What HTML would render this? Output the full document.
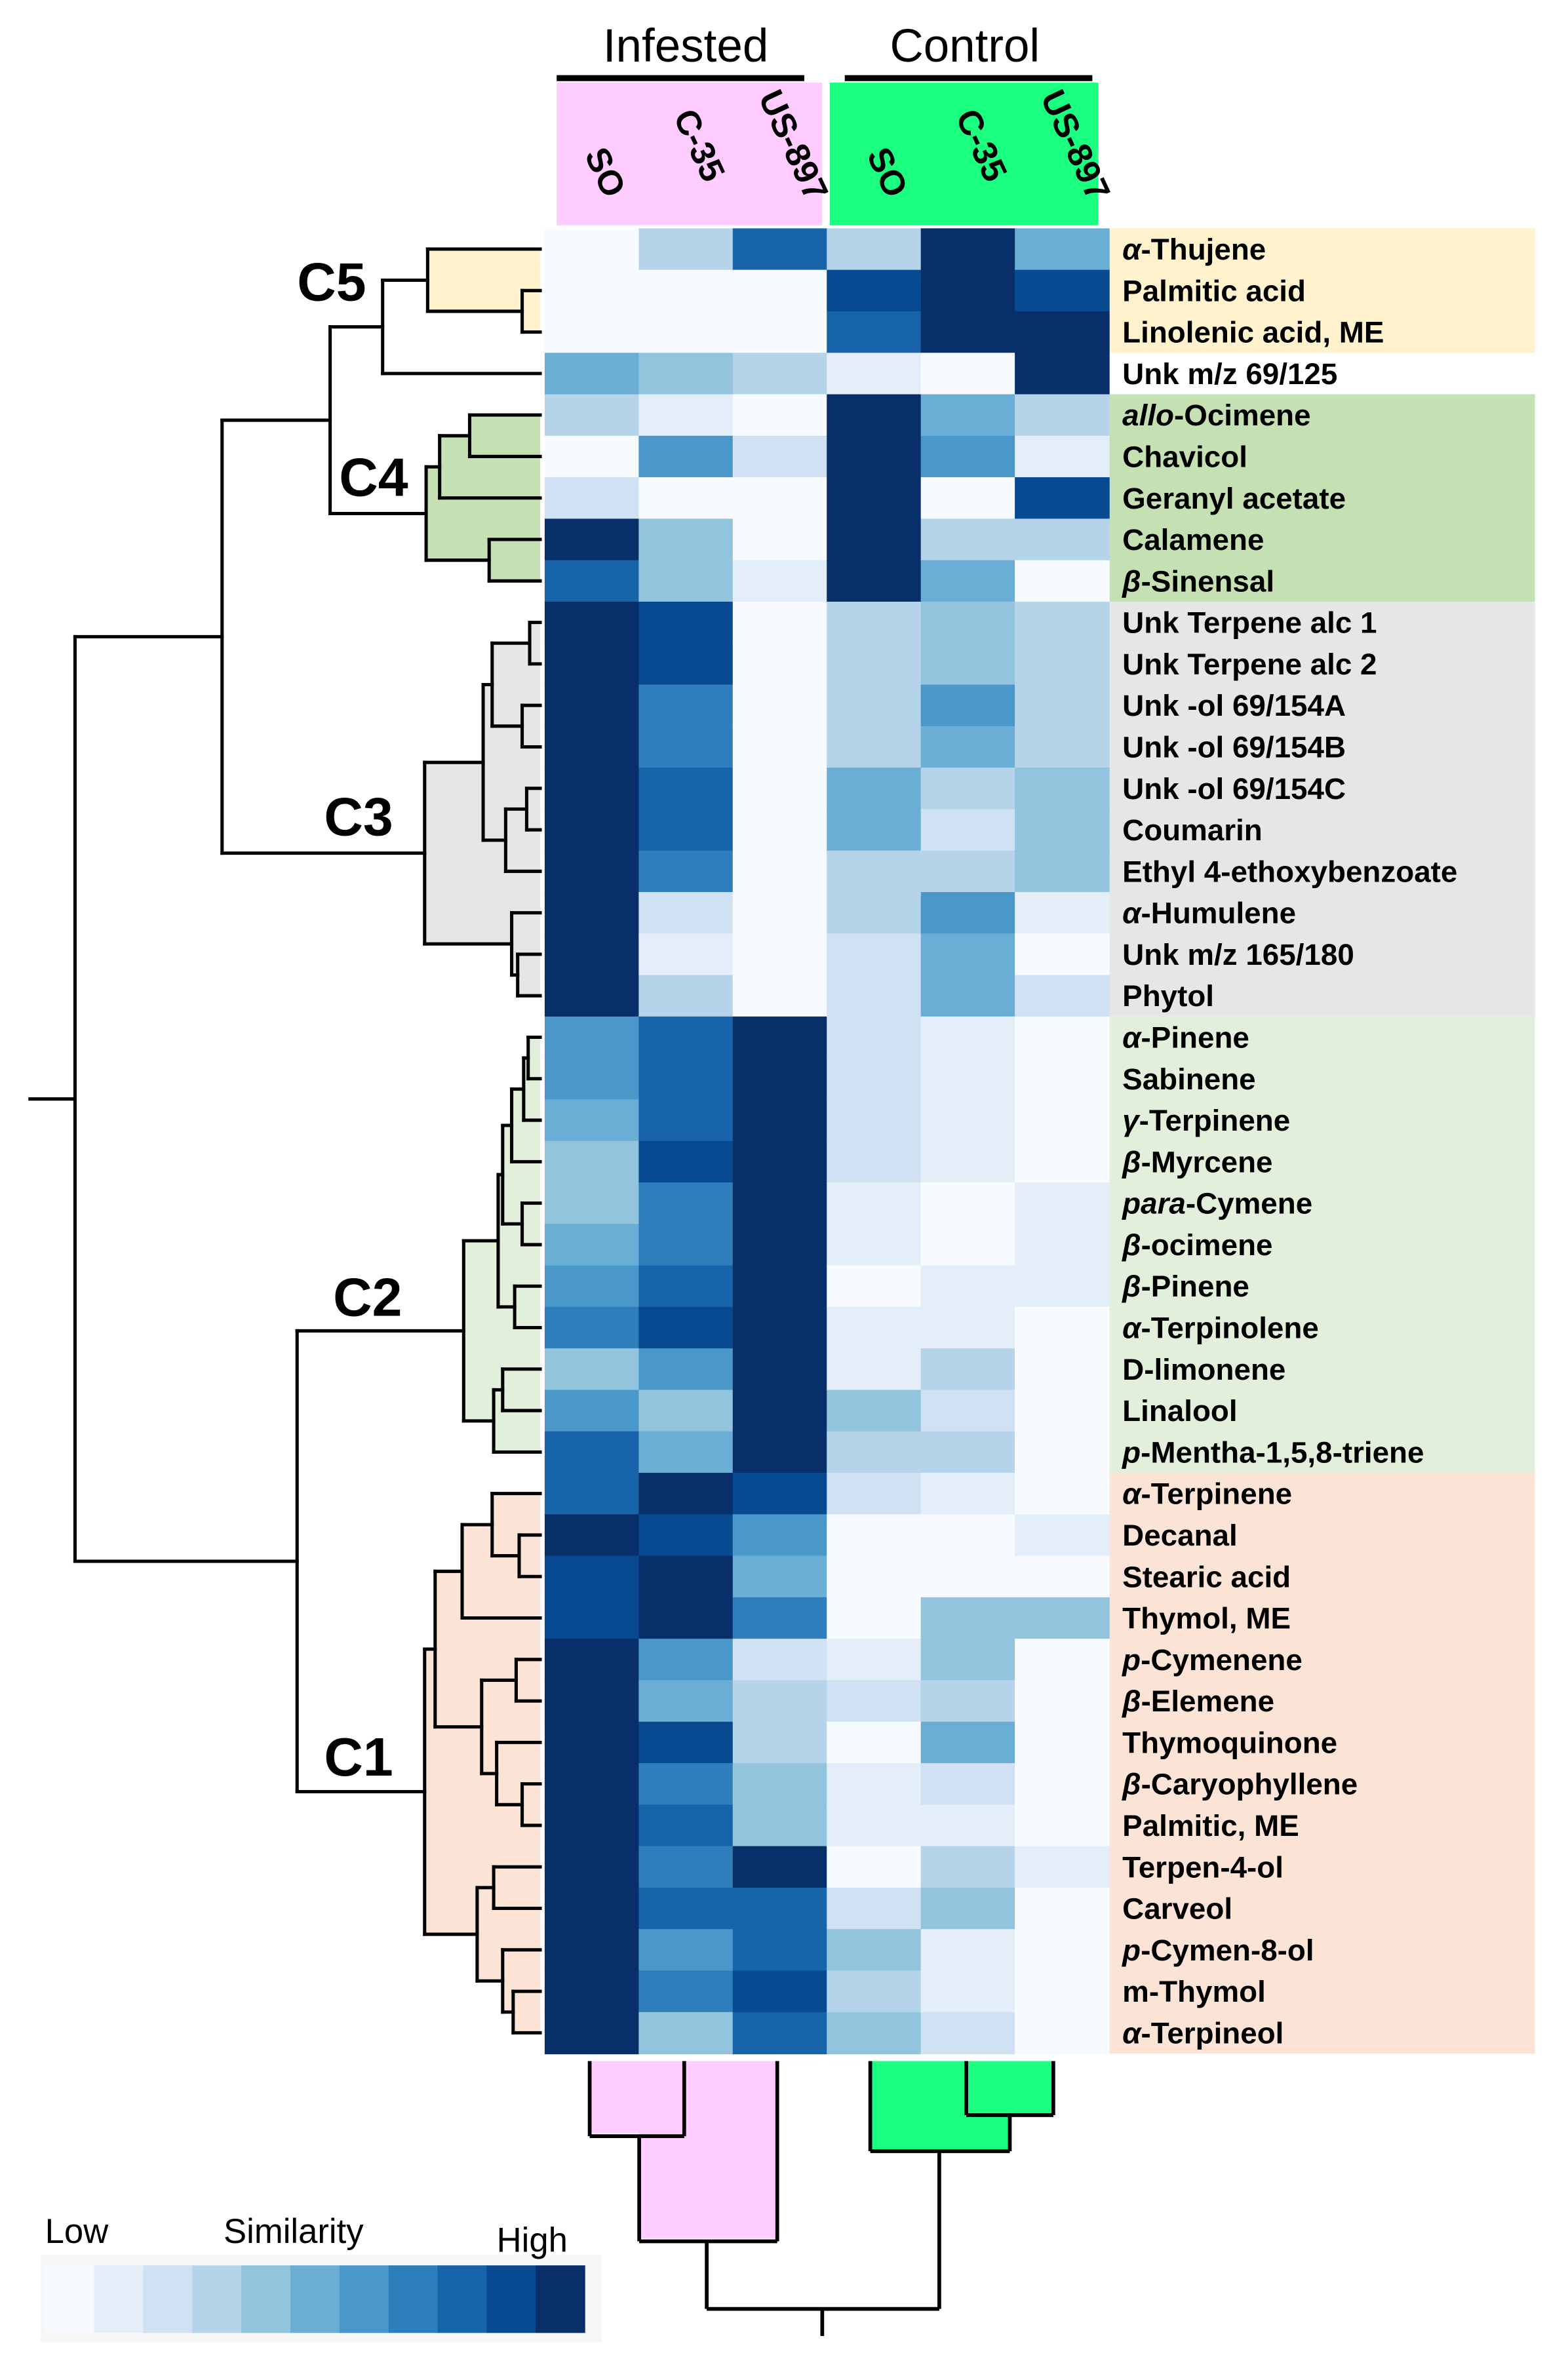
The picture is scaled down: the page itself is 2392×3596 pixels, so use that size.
<!DOCTYPE html>
<html><head><meta charset="utf-8"><style>
html,body{margin:0;padding:0;background:#fff}
svg{display:block}
text{font-family:"Liberation Sans",sans-serif}
</style></head><body>
<svg id="chart" width="2392" height="3596" viewBox="0 0 1045 1569" preserveAspectRatio="none" xmlns="http://www.w3.org/2000/svg">
<g id="bg"></g>
<g id="cells"></g>
<g id="labels"></g>
<g id="shade"></g>
<g id="tree" stroke="#000" stroke-width="2.2" fill="none" stroke-linecap="square"></g>
<g id="clabels"></g>
<g id="header"></g>
<g id="legend"></g>
</svg>
<script>
const compounds=["α-Thujene","Palmitic  acid","Linolenic  acid, ME","Unk m/z 69/125","allo-Ocimene","Chavicol","Geranyl acetate","Calamene","β-Sinensal","Unk Terpene alc 1","Unk Terpene alc 2","Unk -ol 69/154A","Unk -ol 69/154B","Unk -ol 69/154C","Coumarin","Ethyl 4-ethoxybenzoate","α-Humulene","Unk m/z 165/180","Phytol","α-Pinene","Sabinene","γ-Terpinene","β-Myrcene","para-Cymene","β-ocimene","β-Pinene","α-Terpinolene","D-limonene","Linalool","p-Mentha-1,5,8-triene","α-Terpinene","Decanal","Stearic acid","Thymol, ME","p-Cymenene","β-Elemene","Thymoquinone","β-Caryophyllene","Palmitic,  ME","Terpen-4-ol","Carveol","p-Cymen-8-ol","m-Thymol","α-Terpineol"];
const italicPrefix=["α-","β-","γ-","allo-","para-","p-"];
const samples=["SO","C-35","US-897","SO","C-35","US-897"];
const infSO =[0,0,0,5,3,0,2,10,8,10,10,10,10,10,10,10,10,10,10,6,6,5,4,4,5,6,7,4,6,8,8,10,9,9,10,10,10,10,10,10,10,10,10,10];
const infC35=[3,0,0,4,1,6,0,4,4,9,9,7,7,8,8,7,2,1,3,8,8,8,9,7,7,8,9,6,4,5,10,9,10,10,6,5,9,7,8,7,8,6,7,4];
const infUS =[8,0,0,3,0,2,0,0,1,0,0,0,0,0,0,0,0,0,0,10,10,10,10,10,10,10,10,10,10,10,9,6,5,7,2,3,3,4,4,10,8,8,9,8];
const conSO =[3,9,8,1,10,10,10,10,10,3,3,3,3,5,5,3,3,2,2,2,2,2,2,1,1,0,1,1,4,3,2,0,0,0,1,2,0,1,1,0,2,4,3,4];
const conC35=[10,10,10,0,5,6,0,3,5,4,4,6,5,3,2,3,6,5,5,1,1,1,1,0,0,1,1,3,2,3,1,0,0,4,4,3,5,2,1,3,4,1,1,2];
const conUS =[5,9,10,10,3,1,9,3,0,3,3,3,3,4,4,4,1,0,2,0,0,0,0,1,1,1,0,0,0,0,0,1,0,4,0,0,0,0,0,1,0,0,0,0];
const columns=[infSO,infC35,infUS,conSO,conC35,conUS];
const palette=["#f7fbff","#e3eef8","#cfe1f2","#b5d4e9","#93c4de","#6aaed6","#4a98c9","#2e7ebc","#1764ab","#084a91","#082f6a"];
const clusterNames=["C5","C4","C3","C2","C1"];
const clusterStart=[0,4,9,19,30];
const clusterEnd=[2,8,18,29,43];
const clusterColors=["#fff2cc","#c5e0b3","#e6e6e6","#e2efda","#fbe4d5"];
// dendrogram trees [nodeX, childA, childB]; leaves are row indices
const treeC5=[285,0,[348,1,2]];
const treeC4=[284,[293,[313,4,5],6],[326,7,8]];
const treeC3=[283,[322,[328,[353,9,10],[348,11,12]],[337,[351,13,14],15]],[341,16,[345,17,18]]];
const treeC2=[309,[332,[335,[341,[349,[352,19,20],21],22],[348,23,24]],[343,25,26]],[329,[335,27,28],29]];
const treeC1=[283,[290,[308,[328,30,[346,31,32]],33],[321,[344,34,35],[331,36,[348,37,38]]]],[318,[329,39,40],[335,41,[342,42,43]]]];

const NS="http://www.w3.org/2000/svg";
const X0=363,X1=739,Y0=152,Y1=1367;
const nR=compounds.length, nC=columns.length;
const cw=(X1-X0)/nC, rh=(Y1-Y0)/nR;
const xc=i=>X0+i*cw, yr=i=>Y0+i*rh;
function mk(tag,attrs,parent){const e=document.createElementNS(NS,tag);for(const k in attrs)e.setAttribute(k,attrs[k]);parent.appendChild(e);return e;}
const bg=document.getElementById('bg'),cells=document.getElementById('cells'),labels=document.getElementById('labels'),tree=document.getElementById('tree'),shadeG=document.getElementById('shade'),clabels=document.getElementById('clabels'),header=document.getElementById('header'),legend=document.getElementById('legend');

clusterNames.forEach((n,k)=>{
  const r=mk('rect',{x:X1,y:yr(clusterStart[k]),width:1023-X1,height:(clusterEnd[k]-clusterStart[k]+1)*rh,fill:clusterColors[k]},bg);
  
  
});
for(let c=0;c<nC;c++)for(let r=0;r<nR;r++){
  const e=mk('rect',{x:xc(c),y:yr(r),width:cw+0.5,height:rh+0.5,fill:palette[columns[c][r]]},cells);
  
  
}
compounds.forEach((t,r)=>{
  const e=mk('text',{x:748,y:yr(r)+rh/2+7,'font-size':20,'font-weight':'bold',fill:'#000','xml:space':'preserve'},labels);
  
  
  let p=italicPrefix.find(q=>t.startsWith(q));
  if(p){const a=mk('tspan',{'font-style':'italic'},e);a.textContent=p.replace('-','');const b=mk('tspan',{},e);b.textContent=t.slice(p.length-1);}
  else e.textContent=t;
});
const LEAFX=360;
function line(x1,y1,x2,y2){const e=mk('line',{x1,y1,x2,y2},tree);
  
  }
function draw(node,color){
  if(typeof node==='number') return {x:LEAFX,y:yr(node)+rh/2};
  const a=draw(node[1],color), b=draw(node[2],color), x=node[0];
  if(color){const s=mk('rect',{x:x,y:a.y,width:LEAFX-x,height:b.y-a.y,fill:color},shadeG);
    
    }
  line(x,a.y,x,b.y);line(x,a.y,a.x,a.y);line(x,b.y,b.x,b.y);
  return {x:x,y:(a.y+b.y)/2};
}
function drawTop(node){
  if(typeof node==='number') return {x:LEAFX,y:yr(node)+rh/2};
  if(!Array.isArray(node)) return draw(node.t,node.color);
  const a=drawTop(node[1]), b=drawTop(node[2]), x=node[0];
  line(x,a.y,x,b.y);line(x,a.y,a.x,a.y);line(x,b.y,b.x,b.y);
  return {x:x,y:(a.y+b.y)/2};
}
const fullTree=[50,[148,[220,[255,{t:treeC5,color:clusterColors[0]},3],{t:treeC4,color:clusterColors[1]}],{t:treeC3,color:clusterColors[2]}],[198,{t:treeC2,color:clusterColors[3]},{t:treeC1,color:clusterColors[4]}]];
const rootPos=drawTop(fullTree);
line(20,rootPos.y,50,rootPos.y);

const cl=[[198,200],[226,330],[216,556],[222,876],[216,1182]];
clusterNames.forEach((n,k)=>{const e=mk('text',{x:cl[k][0],y:cl[k][1],'font-size':36,'font-weight':'bold'},clabels);e.textContent=n;
  
  });
const pk=mk('path',{d:'M393,1372 H518 V1490 H426 V1420 H393 Z',fill:'#ffccff',stroke:'none'},header);

const gr=mk('path',{d:'M580,1372 H702 V1408 H673 V1432 H580 Z',fill:'#1aff80',stroke:'none'},header);

const bl=[[393,1372,393,1422],[456,1372,456,1422],[393,1422,456,1422],[426,1422,426,1492],[518,1372,518,1492],[426,1492,518,1492],[580,1372,580,1432],[644,1372,644,1408],[702,1372,702,1408],[644,1408,702,1408],[673,1408,673,1432],[580,1432,673,1432],[471,1492,471,1537],[626,1432,626,1537],[471,1537,626,1537],[548,1537,548,1555]];
bl.forEach(l=>{const e=mk('line',{x1:l[0],y1:l[1],x2:l[2],y2:l[3],stroke:'#000','stroke-width':2.5},header);
  });
const hp=mk('rect',{x:371,y:55,width:177,height:95,fill:'#ffccff'},header);
const hg=mk('rect',{x:553,y:55,width:179,height:95,fill:'#1aff80'},header);
[[371,536],[563,728]].forEach(l=>{const e=mk('line',{x1:l[0],y1:52,x2:l[1],y2:52,stroke:'#000','stroke-width':4},header);});
[["Infested",457],["Control",643]].forEach(g=>{const e=mk('text',{x:g[1],y:41,'font-size':31,'text-anchor':'middle'},header);e.textContent=g[0];});
samples.forEach((s,c)=>{const cx=xc(c)+cw/2+2, cy=s.length>3?100:(s.length>2?115:118);
  const e=mk('text',{x:cx,y:cy,'font-size':23,'font-weight':'bold','text-anchor':'middle',transform:`rotate(65 ${cx} ${cy})`},header);e.textContent=s;
  });
const lf=mk('rect',{x:27,y:1501,width:374,height:58,fill:'#f6f6f6'},legend);
palette.forEach((p,i)=>{const e=mk('rect',{x:30+i*32.7,y:1508,width:33,height:45,fill:p},legend);});
[["Low",30,1493],["Similarity",149,1493],["High",331,1499]].forEach(t=>{const e=mk('text',{x:t[1],y:t[2],'font-size':23},legend);e.textContent=t[0];});
</script>
</body></html>
